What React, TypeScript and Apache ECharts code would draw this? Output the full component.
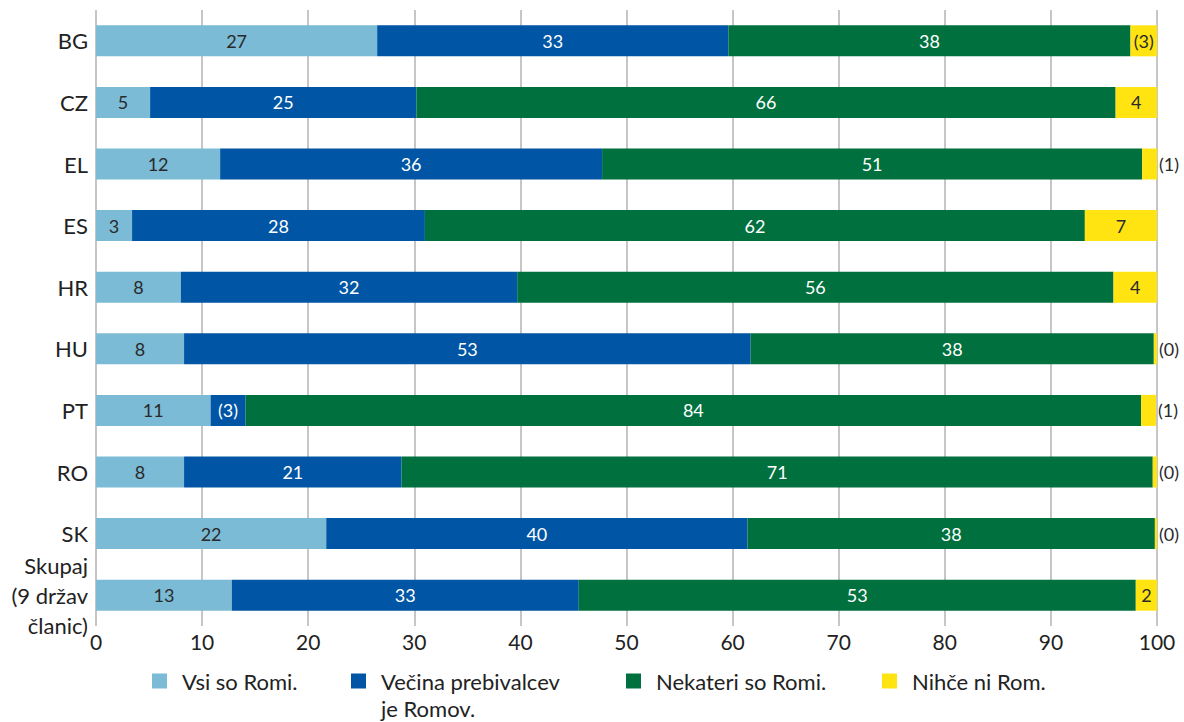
import React, { useEffect, useRef } from "react";
import * as echarts from "echarts";

const categories = ["BG", "CZ", "EL", "ES", "HR", "HU", "PT", "RO", "SK", "Skupaj\n(9 držav\nčlanic)"];
const seriesNames = ["Vsi so Romi.", "Večina prebivalcev\nje Romov.", "Nekateri so Romi.", "Nihče ni Rom."];
const allRoma = [26.5, 5.1, 11.7, 3.4, 8.0, 8.3, 10.8, 8.3, 21.7, 12.8];
const majorityRoma = [33.1, 25.1, 36.0, 27.6, 31.7, 53.4, 3.3, 20.5, 39.7, 32.7];
const someRoma = [37.9, 65.9, 50.9, 62.2, 56.2, 38.0, 84.4, 70.8, 38.4, 52.5];
const noRoma = [2.5, 3.9, 1.4, 6.8, 4.1, 0.3, 1.4, 0.4, 0.2, 2.0];
// values shown in brackets (low reliability)
const allRomaFlag = [false, false, false, false, false, false, false, false, false, false];
const majorityRomaFlag = [false, false, false, false, false, false, true, false, false, false];
const someRomaFlag = [false, false, false, false, false, false, false, false, false, false];
const noRomaFlag = [true, false, true, false, false, true, true, true, true, false];
const xTicks = [0, 10, 20, 30, 40, 50, 60, 70, 80, 90, 100];

const colors = ["#7BBBD6", "#0055A4", "#00713E", "#FFE411"];
const labelColors = ["#2a2a2a", "#ffffff", "#ffffff", "#2a2a2a"];
const FONT = "Lato";

export default function App() {
  const ref = useRef<HTMLDivElement>(null);
  useEffect(() => {
    if (!ref.current) return;
    const chart = echarts.init(ref.current, undefined, { renderer: "svg" });
    const values = [allRoma, majorityRoma, someRoma, noRoma];
    const flags = [allRomaFlag, majorityRomaFlag, someRomaFlag, noRomaFlag];
    const series = values.map((vals, si) => ({
      type: "bar",
      name: seriesNames[si],
      stack: "total",
      barWidth: 31,
      itemStyle: { color: colors[si] },
      label: {
        show: true,
        position: "inside",
        color: labelColors[si],
        fontFamily: FONT,
        fontSize: 18,
        formatter: (p: any) => {
          const r = Math.round(p.value);
          return flags[si][p.dataIndex] ? `(${r})` : `${r}`;
        },
      },
      data: vals.map((v) =>
        si === 3 && v < 2
          ? { value: v, label: { position: "right", distance: 2, color: "#2a2a2a" } }
          : { value: v }
      ),
    }));
    const legendLefts = [152, 351, 626, 882];
    const legends = seriesNames.map((n, i) => ({
      data: [n],
      left: legendLefts[i],
      top: 667.5,
      padding: 0,
      orient: "horizontal",
      itemWidth: 15,
      itemHeight: i === 1 ? 42 : 15,
      icon: i === 1 ? "path://M0,0H15V15H0Z M0,42L0.01,42L0,42Z" : "rect",
      selectedMode: false,
      textStyle: {
        fontFamily: FONT,
        fontSize: 22,
        color: "#222",
        lineHeight: 27,
        padding: [0, 0, 0, 10],
      },
    }));
    chart.setOption({
      animation: false,
      color: colors,
      grid: { left: 96, right: 27, top: 10, bottom: 96, containLabel: false },
      xAxis: {
        type: "value",
        min: xTicks[0],
        max: xTicks[xTicks.length - 1],
        interval: 10,
        axisLine: { show: false },
        axisTick: { show: false },
        splitLine: { show: true, lineStyle: { color: "#b3b3b3", width: 1.5 } },
        axisLabel: { fontFamily: FONT, fontSize: 21, color: "#222", margin: 5 },
      },
      yAxis: {
        type: "category",
        inverse: true,
        data: categories,
        axisLine: { show: false },
        axisTick: { show: false },
        axisLabel: { fontFamily: FONT, fontSize: 22, color: "#222", margin: 8, lineHeight: 30, align: "right" },
      },
      legend: legends,
      series,
    });
    return () => chart.dispose();
  }, []);
  return <div ref={ref} style={{ width: 1184, height: 722, position: "absolute", left: 0, top: 0, background: "#fff" }} />;
}
